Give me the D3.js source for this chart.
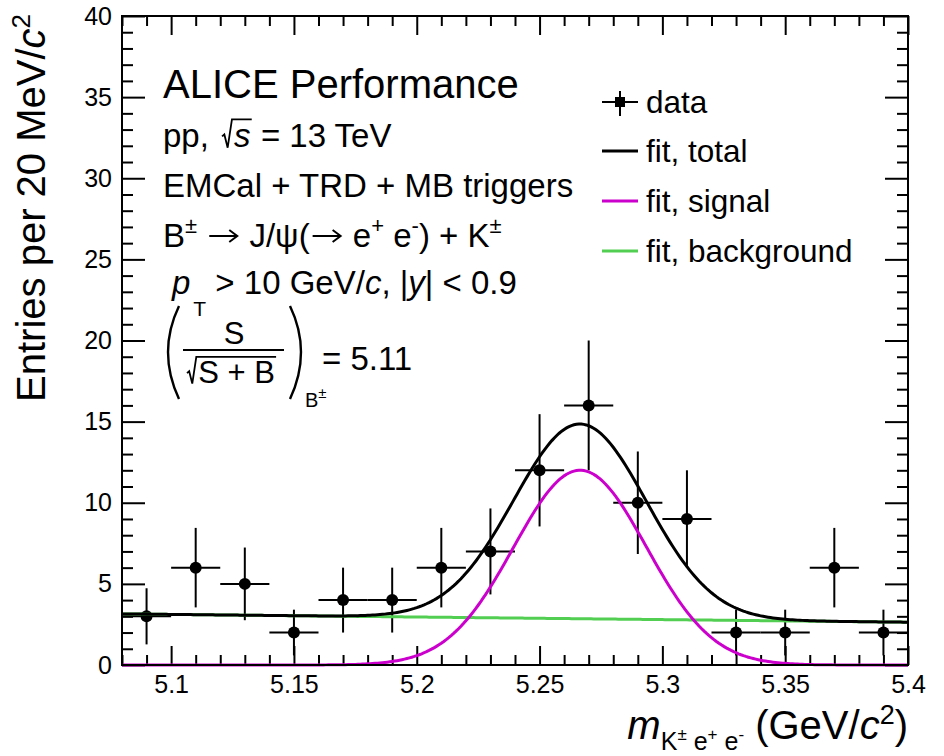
<!DOCTYPE html>
<html>
<head>
<meta charset="utf-8">
<script src="https://cdn.jsdelivr.net/npm/d3@7"></script>
<style>
  body { margin: 0; background: #fff; }
  text { font-family: "Liberation Sans", Arial, Helvetica, sans-serif; fill: #000; }
</style>
</head>
<body>
<svg id="chart"></svg>
<script>
// ===== DATA =====
const binCenters = [5.09, 5.11, 5.13, 5.15, 5.17, 5.19, 5.21, 5.23, 5.25, 5.27, 5.29, 5.31, 5.33, 5.35, 5.37, 5.39];
const entries    = [3, 6, 5, 2, 4, 4, 6, 7, 12, 16, 10, 9, 2, 2, 6, 2];
const entryErr   = [1.73, 2.45, 2.24, 1.41, 2, 2, 2.45, 2.65, 3.46, 4, 3.16, 3, 1.41, 1.41, 2.45, 1.41];
const binHalf = 0.01;

// fit parameters: gaussian [amplitude, mean, sigma], linear bkg [value at 5.08, slope]
const signalPars = [12.0, 5.2665, 0.027];
const bkgPars    = [3.15, -1.6];

const xMajor = [5.1, 5.15, 5.2, 5.25, 5.3, 5.35, 5.4];
const xLabels = ["5.1", "5.15", "5.2", "5.25", "5.3", "5.35", "5.4"];
const yMajor = [0, 5, 10, 15, 20, 25, 30, 35, 40];
const yLabels = ["0", "5", "10", "15", "20", "25", "30", "35", "40"];

const legendItems = ["data", "fit, total", "fit, signal", "fit, background"];

// ===== SETUP =====
const width = 944, height = 756;
const svg = d3.select("#chart").attr("width", width).attr("height", height);

const x = d3.scaleLinear().domain([5.08, 5.4]).range([122, 908]);
const y = d3.scaleLinear().domain([0, 40]).range([665, 16]);

const signal = m => signalPars[0] * Math.exp(-Math.pow(m - signalPars[1], 2) / (2 * signalPars[2] * signalPars[2]));
const bkg = m => bkgPars[0] + bkgPars[1] * (m - 5.08);
const total = m => signal(m) + bkg(m);

svg.append("defs").append("clipPath").attr("id", "frame")
  .append("rect").attr("x", 122).attr("y", 14).attr("width", 786).attr("height", 653);

// ===== AXES =====
const xMinor = d3.range(5.08, 5.4001, 0.01).filter(v => !xMajor.some(t => Math.abs(t - v) < 1e-6));
const yMinor = d3.range(0, 40.001, 1).filter(v => v % 5 !== 0);

function ticks(axis, tr) {
  const g = svg.append("g").attr("transform", tr).call(axis);
  g.select(".domain").remove();
  g.selectAll("line").attr("stroke", "#000").attr("stroke-width", 2);
  g.selectAll("text").attr("font-size", 25).attr("font-family", "Liberation Sans, Arial, sans-serif");
  return g;
}

ticks(d3.axisBottom(x).tickValues(xMajor).tickSize(-19).tickPadding(10)
  .tickFormat((d, i) => xLabels[i]), "translate(0,665)");
ticks(d3.axisBottom(x).tickValues(xMinor).tickSize(-10).tickFormat(""), "translate(0,665)");
ticks(d3.axisTop(x).tickValues(xMajor).tickSize(-19).tickFormat(""), "translate(0,16)");
ticks(d3.axisTop(x).tickValues(xMinor).tickSize(-10).tickFormat(""), "translate(0,16)");

ticks(d3.axisLeft(y).tickValues(yMajor).tickSize(-23).tickPadding(10)
  .tickFormat((d, i) => yLabels[i]), "translate(122,0)");
ticks(d3.axisLeft(y).tickValues(yMinor).tickSize(-11).tickFormat(""), "translate(122,0)");
ticks(d3.axisRight(y).tickValues(yMajor).tickSize(-23).tickFormat(""), "translate(908,0)");
ticks(d3.axisRight(y).tickValues(yMinor).tickSize(-11).tickFormat(""), "translate(908,0)");

// ===== DATA POINTS =====
const pts = svg.append("g").attr("clip-path", "url(#frame)");
binCenters.forEach((m, i) => {
  const v = entries[i], e = entryErr[i];
  pts.append("line").attr("x1", x(m)).attr("x2", x(m))
    .attr("y1", y(v - e)).attr("y2", y(v + e))
    .attr("stroke", "#000").attr("stroke-width", 2);
  pts.append("line").attr("x1", x(m - binHalf)).attr("x2", x(m + binHalf))
    .attr("y1", y(v)).attr("y2", y(v))
    .attr("stroke", "#000").attr("stroke-width", 2);
  pts.append("circle").attr("cx", x(m)).attr("cy", y(v)).attr("r", 6).attr("fill", "#000");
});

// ===== FIT CURVES =====
const mGrid = d3.range(5.08, 5.4001, 0.001);
const curves = svg.append("g").attr("clip-path", "url(#frame)").attr("fill", "none");
const line = f => d3.line().x(m => x(m)).y(m => y(f(m)))(mGrid);

curves.append("path").attr("d", line(bkg)).attr("stroke", "#52cf52").attr("stroke-width", 3);
curves.append("path").attr("d", line(signal)).attr("stroke", "#cc00cc").attr("stroke-width", 3);
curves.append("path").attr("d", line(total)).attr("stroke", "#000").attr("stroke-width", 3);

// frame
svg.append("rect").attr("x", 122).attr("y", 16).attr("width", 786).attr("height", 649)
  .attr("fill", "none").attr("stroke", "#000").attr("stroke-width", 2);

// ===== RICH TEXT HELPER =====
function rich(x0, y0, parts) {
  let cx = x0;
  parts.forEach(p => {
    if (p.sqrt) {
      const s = p.size;
      cx += p.dx || 0;
      const top = y0 - 0.84 * s;
      const t = svg.append("text").attr("x", cx + 0.36 * s).attr("y", y0)
        .attr("font-size", s).attr("font-style", p.it ? "italic" : null).text(p.sqrt);
      const w = t.node().getComputedTextLength();
      svg.append("path")
        .attr("d", `M${cx},${y0 - 0.32 * s} L${cx + 0.07 * s},${y0 - 0.38 * s} L${cx + 0.17 * s},${y0 + 0.02 * s} L${cx + 0.3 * s},${top} L${cx + 0.4 * s + w},${top}`)
        .attr("fill", "none").attr("stroke", "#000").attr("stroke-width", 1.8);
      cx += 0.4 * s + w;
      return;
    }
    if (p.arrow) {
      // long right arrow like ROOT's #rightarrow
      const ay = y0 - 11, x1 = cx + 3, x2 = cx + p.arrow - 3;
      svg.append("path")
        .attr("d", `M${x1},${ay} L${x2},${ay} M${x2 - 8},${ay - 6} L${x2},${ay} L${x2 - 8},${ay + 6}`)
        .attr("fill", "none").attr("stroke", "#000").attr("stroke-width", 2);
      cx += p.arrow;
      return;
    }
    const t = svg.append("text").attr("x", cx + (p.dx || 0)).attr("y", y0 + (p.dy || 0))
      .attr("font-size", p.size).attr("font-style", p.it ? "italic" : null)
      .style("white-space", "pre").text(p.t);
    cx += t.node().getComputedTextLength() + (p.dx || 0);
  });
  return cx;
}

// ===== LABELS =====
svg.append("text").attr("x", 163).attr("y", 98).attr("font-size", 40).text("ALICE Performance");

rich(163, 147, [
  { t: "pp, ", size: 33 },
  { sqrt: "s", size: 33, it: true, dx: 4 },
  { t: " = 13 TeV", size: 33 }
]);

svg.append("text").attr("x", 163).attr("y", 197).attr("font-size", 33).text("EMCal + TRD + MB triggers");

rich(163, 247, [
  { t: "B", size: 33 },
  { t: "\u00b1", size: 22, dy: -14 },
  { t: " ", size: 33 },
  { arrow: 34 },
  { t: " J/\u03c8(", size: 33 },
  { arrow: 34 },
  { t: " e", size: 33 },
  { t: "+", size: 22, dy: -14 },
  { t: " e", size: 33 },
  { t: "-", size: 22, dy: -14 },
  { t: ") + K", size: 33 },
  { t: "\u00b1", size: 22, dy: -14 }
]);

rich(172, 294, [
  { t: "p", size: 33, it: true },
  { t: "T", size: 21, dy: 22, dx: 3 },
  { t: " > 10 GeV/", size: 33 },
  { t: "c", size: 33, it: true },
  { t: ", |", size: 33 },
  { t: "y", size: 33, it: true },
  { t: "| < 0.9", size: 33 }
]);

// S / sqrt(S+B) block
const fracSize = 31;
svg.append("text").attr("x", 234).attr("y", 344).attr("font-size", fracSize)
  .attr("text-anchor", "middle").text("S");
svg.append("line").attr("x1", 183).attr("x2", 284).attr("y1", 350).attr("y2", 350)
  .attr("stroke", "#000").attr("stroke-width", 2);
rich(187, 383, [{ sqrt: "S + B", size: fracSize }]);
svg.append("path").attr("d", "M179,306 Q157,352 179,399").attr("fill", "none")
  .attr("stroke", "#000").attr("stroke-width", 2.4);
svg.append("path").attr("d", "M290,306 Q312,352 290,399").attr("fill", "none")
  .attr("stroke", "#000").attr("stroke-width", 2.4);
rich(305, 407, [
  { t: "B", size: 20 },
  { t: "\u00b1", size: 15, dy: -9 }
]);
svg.append("text").attr("x", 322).attr("y", 370).attr("font-size", 33).text("= 5.11");

// ===== LEGEND =====
const legY = [102, 151, 201, 251];
const legColors = [null, "#000", "#cc00cc", "#52cf52"];
const leg = svg.append("g");
legendItems.forEach((name, i) => {
  if (i === 0) {
    leg.append("line").attr("x1", 602).attr("x2", 638).attr("y1", legY[i]).attr("y2", legY[i])
      .attr("stroke", "#000").attr("stroke-width", 2);
    leg.append("line").attr("x1", 620).attr("x2", 620).attr("y1", legY[i] - 11).attr("y2", legY[i] + 14)
      .attr("stroke", "#000").attr("stroke-width", 2);
    leg.append("rect").attr("x", 615).attr("y", legY[i] - 5).attr("width", 10).attr("height", 10).attr("fill", "#000");
  } else {
    leg.append("line").attr("x1", 602).attr("x2", 638).attr("y1", legY[i]).attr("y2", legY[i])
      .attr("stroke", legColors[i]).attr("stroke-width", 3);
  }
  leg.append("text").attr("x", 646).attr("y", legY[i] + 11).attr("font-size", 31.5).text(name);
});

// ===== AXIS TITLES =====
const yt = svg.append("text").attr("transform", "translate(45,14) rotate(-90)")
  .attr("text-anchor", "end").attr("font-size", 40);
yt.append("tspan").text("Entries per 20 MeV/");
yt.append("tspan").attr("font-style", "italic").text("c");
yt.append("tspan").attr("font-size", 26).attr("dy", -15).text("2");

const xt = svg.append("text").attr("x", 908).attr("y", 739).attr("text-anchor", "end").attr("font-size", 40);
xt.append("tspan").attr("font-style", "italic").text("m");
xt.append("tspan").attr("font-size", 25).attr("dy", 11).text("K");
xt.append("tspan").attr("font-size", 17).attr("dy", -10).text("\u00b1");
xt.append("tspan").attr("font-size", 25).attr("dy", 10).text(" e");
xt.append("tspan").attr("font-size", 17).attr("dy", -10).text("+");
xt.append("tspan").attr("font-size", 25).attr("dy", 10).text(" e");
xt.append("tspan").attr("font-size", 17).attr("dy", -10).text("-");
xt.append("tspan").attr("dy", -1).text(" (GeV/");
xt.append("tspan").attr("font-style", "italic").text("c");
xt.append("tspan").attr("font-size", 27).attr("dy", -15).text("2");
xt.append("tspan").attr("font-size", 40).attr("dy", 15).text(")");
</script>
</body>
</html>
